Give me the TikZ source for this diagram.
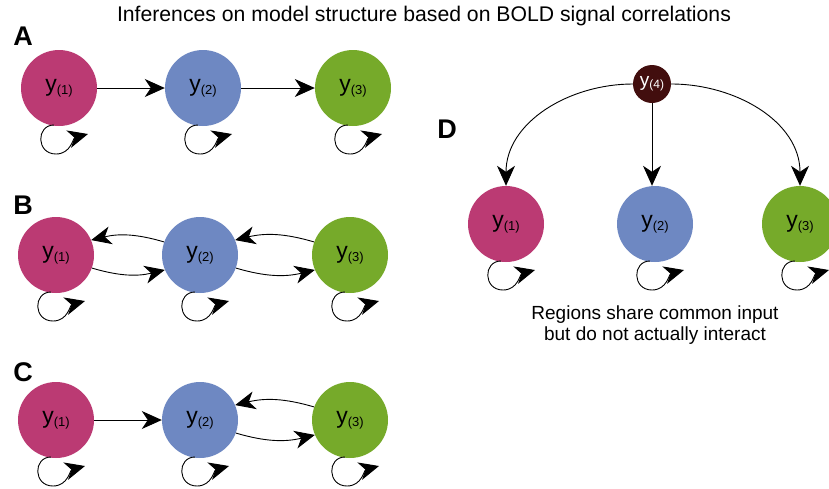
\documentclass[tikz,border=0pt]{standalone}
\usepackage{fontspec}
\setmainfont{Liberation Sans}
\usetikzlibrary{arrows.meta}
\definecolor{cmag}{RGB}{187,58,115}
\definecolor{cblue}{RGB}{110,136,194}
\definecolor{cgreen}{RGB}{118,170,42}
\definecolor{cdark}{RGB}{66,14,14}
\tikzset{
  reg/.style={circle, minimum size=76pt, inner sep=0pt, draw=none},
  small/.style={circle, minimum size=38pt, inner sep=0pt, draw=none, fill=cdark, text=white},
  arr/.style={line width=0.9pt, -{Stealth[length=20pt,width=18pt,inset=6pt]}},
  panel/.style={font=\fontsize{27}{27}\selectfont\bfseries, anchor=base},
  lbl/.style={font=\fontsize{19}{21}\selectfont, align=center}
}
\newcommand{\yy}[1]{\fontsize{23}{23}\selectfont y\raisebox{-3pt}{\fontsize{13}{13}\selectfont(#1)}}
\newcommand{\yys}[1]{\fontsize{19}{19}\selectfont y\raisebox{-2pt}{\fontsize{12}{12}\selectfont(#1)}}
\newcommand{\selfloop}[1]{%
  \draw[arr, shift={(#1.center)}] (-5,37) .. controls (-23,37) and (-23,66) .. (-3,66) .. controls (12,66) and (14,50) .. (29,46);}
\begin{document}
\begin{tikzpicture}[x=1pt,y=-1pt]
\useasboundingbox (0,0) rectangle (829,488);
\clip (0,0) rectangle (829,488);
\node[lbl, font=\fontsize{21.2}{24}\selectfont] (title) at (424,16) {Inferences on model structure based on BOLD signal correlations};
% A
\node[panel] (lA) at (23,45) {A};
\node[reg, fill=cmag] (a1) at (59,88) {\yy{1}};
\node[reg, fill=cblue] (a2) at (203,88) {\yy{2}};
\node[reg, fill=cgreen] (a3) at (353,88) {\yy{3}};
\draw[arr] (a1) -- (a2);
\draw[arr] (a2) -- (a3);
\selfloop{a1}\selfloop{a2}\selfloop{a3}
% B
\node[panel] (lB) at (23,214) {B};
\node[reg, fill=cmag] (b1) at (56,255) {\yy{1}};
\node[reg, fill=cblue] (b2) at (200,255) {\yy{2}};
\node[reg, fill=cgreen] (b3) at (350,255) {\yy{3}};
\draw[arr] (b2.160) to[bend right=15] (b1.23);
\draw[arr] (b1.-20) to[bend right=15] (b2.-157);
\draw[arr] (b3.160) to[bend right=15] (b2.23);
\draw[arr] (b2.-20) to[bend right=15] (b3.-157);
\selfloop{b1}\selfloop{b2}\selfloop{b3}
% C
\node[panel] (lC) at (23,381) {C};
\node[reg, fill=cmag] (c1) at (56,420) {\yy{1}};
\node[reg, fill=cblue] (c2) at (200,420) {\yy{2}};
\node[reg, fill=cgreen] (c3) at (350,420) {\yy{3}};
\draw[arr] (c1) -- (c2);
\draw[arr] (c3.160) to[bend right=15] (c2.23);
\draw[arr] (c2.-20) to[bend right=15] (c3.-157);
\selfloop{c1}\selfloop{c2}\selfloop{c3}
% D
\node[panel] (lD) at (447,138) {D};
\node[small] (d4) at (652,84) {\yys{4}};
\node[reg, fill=cmag] (d1) at (506,224) {\yy{1}};
\node[reg, fill=cblue] (d2) at (655,224) {\yy{2}};
\node[reg, fill=cgreen] (d3) at (800,224) {\yy{3}};
\draw[arr] (d4.west) to[out=180,in=90] (d1.north);
\draw[arr] (d4.south) -- (d4.south |- d2.north);
\draw[arr] (d4.east) to[out=0,in=90] (d3.north);
\selfloop{d1}\selfloop{d2}\selfloop{d3}
\node[lbl] (note) at (655,325) {Regions share common input\\but do not actually interact};
\end{tikzpicture}
\end{document}
